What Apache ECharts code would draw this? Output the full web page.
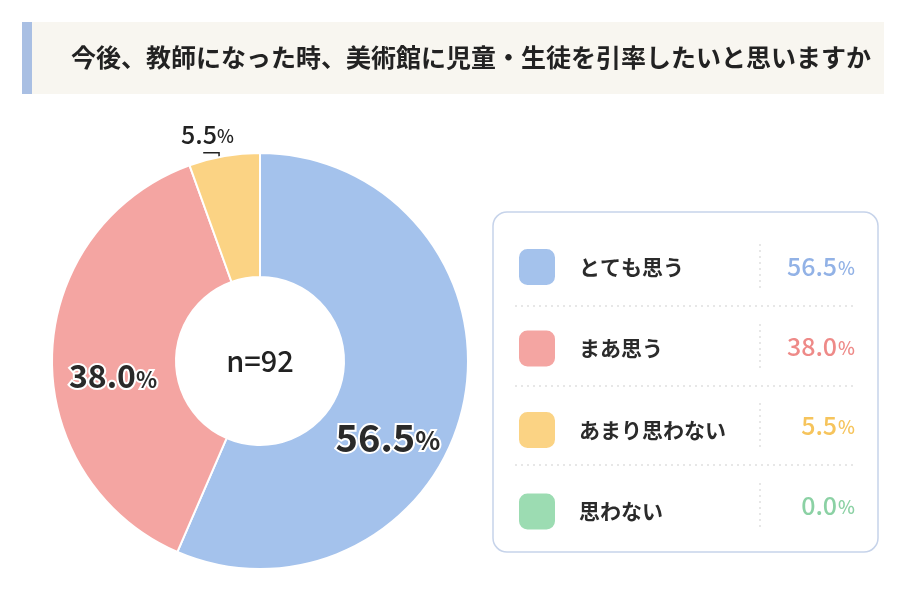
<!DOCTYPE html>
<html><head><meta charset="utf-8">
<script src="https://cdn.jsdelivr.net/npm/echarts@6/dist/echarts.min.js"></script>
<style>html,body{margin:0;padding:0;background:#fff}#c{width:900px;height:600px}</style>
</head><body><div id="c"></div>
<script>
const titleText = '今後、教師になった時、美術館に児童・生徒を引率したいと思いますか';
const categories = ['とても思う', 'まあ思う', 'あまり思わない', '思わない'];
const values = [56.5, 38.0, 5.5, 0.0];
const sampleLabel = 'n=92';
const sliceColors = ['#a4c2ec', '#f4a5a2', '#fbd384', '#9cdcb2'];
const valueColors = ['#92b2e6', '#ee8a88', '#f6c45c', '#8bd1a4'];

const FONT = '"Noto Sans CJK JP", "Noto Sans", sans-serif';
const chart = echarts.init(document.getElementById('c'), null, {renderer: 'canvas'});

const labelShift = [[-18, 46], [2, 20], [26, -14], [0, 0]];

const seriesData = categories.map((n, i) => ({
  name: n, value: values[i],
  itemStyle: {color: sliceColors[i]},
  label: values[i] === 0 ? {show: false} :
    (i === 2 ? {
      show: true, position: 'outside',
      formatter: p => '{v|' + p.value.toFixed(1) + '}{p|%}',
      rich: {
        v: {fontFamily: FONT, fontSize: 25, fontWeight: 500, color: '#222'},
        p: {fontFamily: FONT, fontSize: 18, fontWeight: 500, color: '#222', padding: [4, 0, 0, 0]}
      }
    } : {
      show: true, position: 'inside',
      formatter: p => '{v|' + p.value.toFixed(1) + '}{p|%}',
      rich: {
        v: {fontFamily: FONT, fontSize: i === 0 ? 38 : 32, fontWeight: 'bold', color: '#2a2a2a',
            textBorderColor: '#fff', textBorderWidth: 4},
        p: {fontFamily: FONT, fontSize: i === 0 ? 26 : 22, fontWeight: 'bold', color: '#2a2a2a',
            textBorderColor: '#fff', textBorderWidth: 4, padding: [6, 0, 0, 0]}
      }
    }),
  labelLine: {show: i === 2}
}));

const rowY = [266, 346, 425, 505];

const graphics = [
  {type: 'rect', shape: {x: 22, y: 22, width: 862, height: 72}, style: {fill: '#f8f6f0'}, z: -10},
  {type: 'rect', shape: {x: 22, y: 22, width: 10, height: 72}, style: {fill: '#a9bfe3'}, z: -9},
  {type: 'rect', shape: {x: 493, y: 212, width: 385, height: 340, r: 14},
   style: {fill: '#fff', stroke: '#c6d3ea', lineWidth: 1.5}, z: -10}
];
[306, 386, 465].forEach(y => graphics.push({
  type: 'line', shape: {x1: 515, y1: y, x2: 857, y2: y},
  style: {stroke: '#cfcfcf', lineWidth: 1, lineDash: [2, 4]}, z: -5
}));
rowY.forEach(y => graphics.push({
  type: 'line', shape: {x1: 760, y1: y - 22, x2: 760, y2: y + 22},
  style: {stroke: '#cfcfcf', lineWidth: 1, lineDash: [2, 4]}, z: -5
}));
values.forEach((v, i) => graphics.push({
  type: 'text', x: 855, y: rowY[i],
  style: {
    text: '{v|' + v.toFixed(1) + '}{p|%}',
    align: 'right', verticalAlign: 'middle',
    rich: {
      v: {fontFamily: FONT, fontSize: 25, fontWeight: 500, fill: valueColors[i]},
      p: {fontFamily: FONT, fontSize: 18, fontWeight: 500, fill: valueColors[i], padding: [5, 0, 0, 1]}
    }
  }
}));

chart.setOption({
  backgroundColor: '#ffffff',
  animation: false,
  graphic: graphics,
  title: {
    text: titleText, left: 66, top: 40,
    textStyle: {fontFamily: FONT, fontSize: 25, fontWeight: 'bold', color: '#222'}
  },
  legend: {
    orient: 'vertical', left: 517, top: 247, padding: 0,
    itemWidth: 38, itemHeight: 38, itemGap: 41.5,
    icon: 'roundRect', selectedMode: false,
    data: categories,
    formatter: name => '{n|' + name + '}',
    textStyle: {rich: {
      n: {fontFamily: FONT, fontSize: 21, fontWeight: 'bold', color: '#2b2b2b', padding: [0, 0, 0, 18]}
    }}
  },
  series: [{
    type: 'pie',
    center: [260, 361],
    radius: [84, 208],
    startAngle: 90,
    clockwise: true,
    avoidLabelOverlap: false,
    itemStyle: {borderColor: '#fff', borderWidth: 2},
    emphasis: {disabled: true},
    labelLine: {show: true, showAbove: true, length: 8, length2: 10,
      lineStyle: {color: '#222', width: 1.5}},
    data: seriesData,
    labelLayout: p => {
      const s = labelShift[p.dataIndex];
      const out = {dx: s[0], dy: s[1]};
      if (p.dataIndex === 2 && p.labelRect) {
        const r = p.labelRect;
        const bx = r.x + s[0], by = r.y + s[1] + r.height;
        const lx = bx + r.width * 0.72;
        out.labelLinePoints = [[lx, by + 28], [lx, by + 6], [bx + r.width * 0.42, by + 6]];
      }
      return out;
    }
  }, {
    type: 'pie', center: [260, 361], radius: [0, 1], silent: true,
    itemStyle: {color: 'transparent'},
    label: {show: true, position: 'center', formatter: sampleLabel,
      fontFamily: FONT, fontSize: 29, fontWeight: 500, color: '#222'},
    labelLine: {show: false},
    data: [{value: 1, name: '__n'}],
    tooltip: {show: false}
  }]
});
</script></body></html>
